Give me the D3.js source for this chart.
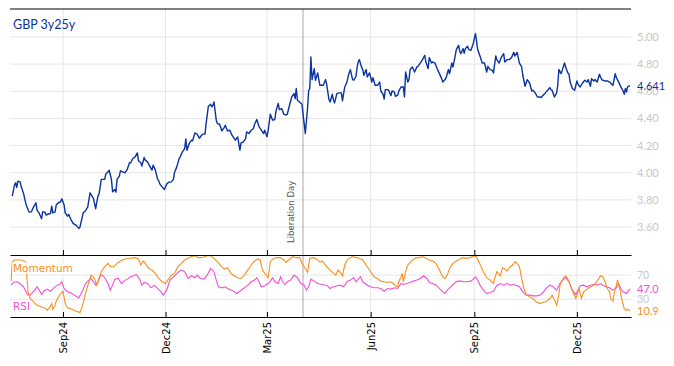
<!DOCTYPE html>
<html>
<head>
<meta charset="utf-8">
<script src="https://cdn.jsdelivr.net/npm/d3@7"></script>
<style>
  body { margin: 0; background: #fff; }
</style>
</head>
<body>
<div id="chart"></div>
<script>
// GBP 3y25y forward rate
const gbpSeries = [
  ["2024-07-18",3.828],["2024-07-20",3.909],["2024-07-21",3.926],["2024-07-22",3.892],["2024-07-23",3.938],["2024-07-25",3.933],
  ["2024-07-26",3.896],["2024-07-28",3.848],["2024-07-30",3.774],["2024-07-31",3.749],["2024-08-02",3.710],["2024-08-04",3.712],
  ["2024-08-06",3.749],["2024-08-08",3.779],["2024-08-09",3.725],["2024-08-11",3.700],["2024-08-13",3.661],["2024-08-14",3.712],
  ["2024-08-16",3.710],["2024-08-17",3.688],["2024-08-19",3.696],["2024-08-21",3.700],["2024-08-22",3.754],["2024-08-23",3.705],
  ["2024-08-25",3.712],["2024-08-26",3.762],["2024-08-28",3.779],["2024-08-30",3.786],["2024-08-31",3.808],["2024-09-02",3.762],
  ["2024-09-03",3.705],["2024-09-05",3.680],["2024-09-06",3.693],["2024-09-08",3.657],["2024-09-10",3.627],["2024-09-13",3.610],
  ["2024-09-15",3.590],["2024-09-16",3.598],["2024-09-19",3.705],["2024-09-21",3.720],["2024-09-23",3.749],["2024-09-25",3.852],
  ["2024-09-28",3.811],["2024-09-30",3.735],["2024-10-02",3.828],["2024-10-03",3.843],["2024-10-05",3.951],["2024-10-08",3.951],
  ["2024-10-09",3.990],["2024-10-11",4.007],["2024-10-12",4.019],["2024-10-14",3.951],["2024-10-15",3.860],["2024-10-17",3.877],
  ["2024-10-18",3.857],["2024-10-19",3.951],["2024-10-21",3.975],["2024-10-22",4.014],["2024-10-24",4.007],["2024-10-26",3.999],
  ["2024-10-28",4.024],["2024-10-30",4.073],["2024-10-31",4.073],["2024-11-02",4.105],["2024-11-04",4.117],["2024-11-06",4.146],
  ["2024-11-07",4.088],["2024-11-09",4.073],["2024-11-10",4.049],["2024-11-12",4.112],["2024-11-13",4.093],["2024-11-15",4.080],
  ["2024-11-17",4.049],["2024-11-19",4.019],["2024-11-20",4.056],["2024-11-22",4.019],["2024-11-24",3.951],["2024-11-25",3.940],
  ["2024-11-26",3.916],["2024-11-28",3.896],["2024-11-30",3.877],["2024-12-02",3.916],["2024-12-04",3.931],["2024-12-06",3.931],
  ["2024-12-08",3.951],["2024-12-09",4.004],["2024-12-11",4.043],["2024-12-13",4.102],["2024-12-14",4.117],["2024-12-16",4.154],
  ["2024-12-18",4.178],["2024-12-19",4.249],["2024-12-20",4.166],["2024-12-22",4.215],["2024-12-24",4.240],["2024-12-25",4.235],
  ["2024-12-27",4.293],["2024-12-29",4.284],["2024-12-31",4.254],["2025-01-02",4.276],["2025-01-03",4.284],["2025-01-05",4.284],
  ["2025-01-06",4.362],["2025-01-08",4.490],["2025-01-10",4.504],["2025-01-11",4.485],["2025-01-12",4.495],["2025-01-13",4.521],
  ["2025-01-15",4.387],["2025-01-16",4.362],["2025-01-18",4.357],["2025-01-20",4.308],["2025-01-22",4.333],["2025-01-23",4.350],
  ["2025-01-25",4.308],["2025-01-27",4.313],["2025-01-29",4.276],["2025-01-30",4.264],["2025-02-01",4.240],["2025-02-03",4.264],
  ["2025-02-05",4.166],["2025-02-06",4.220],["2025-02-08",4.227],["2025-02-10",4.249],["2025-02-11",4.301],["2025-02-13",4.289],
  ["2025-02-15",4.313],["2025-02-17",4.326],["2025-02-18",4.357],["2025-02-20",4.392],["2025-02-22",4.338],["2025-02-24",4.313],
  ["2025-02-26",4.289],["2025-02-27",4.313],["2025-03-01",4.264],["2025-03-02",4.308],["2025-03-04",4.431],["2025-03-06",4.387],
  ["2025-03-08",4.392],["2025-03-09",4.455],["2025-03-11",4.510],["2025-03-12",4.465],["2025-03-14",4.473],["2025-03-16",4.431],
  ["2025-03-18",4.424],["2025-03-19",4.431],["2025-03-21",4.497],["2025-03-23",4.558],["2025-03-25",4.583],["2025-03-26",4.546],
  ["2025-03-27",4.620],["2025-03-28",4.534],["2025-03-30",4.521],["2025-04-01",4.504],["2025-04-03",4.362],["2025-04-04",4.289],
  ["2025-04-06",4.473],["2025-04-07",4.607],["2025-04-08",4.620],["2025-04-09",4.852],["2025-04-10",4.686],["2025-04-12",4.767],
  ["2025-04-13",4.681],["2025-04-15",4.735],["2025-04-16",4.686],["2025-04-17",4.644],["2025-04-20",4.644],["2025-04-22",4.686],
  ["2025-04-23",4.651],["2025-04-25",4.539],["2025-04-26",4.521],["2025-04-28",4.578],["2025-04-29",4.534],["2025-04-30",4.514],
  ["2025-05-02",4.583],["2025-05-04",4.588],["2025-05-06",4.588],["2025-05-07",4.529],["2025-05-09",4.632],["2025-05-11",4.668],
  ["2025-05-12",4.710],["2025-05-14",4.760],["2025-05-16",4.686],["2025-05-17",4.681],["2025-05-19",4.710],["2025-05-20",4.779],
  ["2025-05-21",4.816],["2025-05-22",4.833],["2025-05-24",4.774],["2025-05-25",4.760],["2025-05-26",4.718],["2025-05-28",4.760],
  ["2025-05-29",4.705],["2025-05-31",4.735],["2025-06-02",4.668],["2025-06-03",4.700],["2025-06-05",4.644],["2025-06-07",4.644],
  ["2025-06-09",4.668],["2025-06-10",4.602],["2025-06-12",4.578],["2025-06-13",4.543],["2025-06-14",4.612],["2025-06-16",4.612],
  ["2025-06-17",4.607],["2025-06-19",4.568],["2025-06-20",4.602],["2025-06-22",4.595],["2025-06-23",4.563],["2025-06-25",4.571],
  ["2025-06-26",4.602],["2025-06-28",4.632],["2025-06-30",4.632],["2025-07-01",4.558],["2025-07-02",4.742],["2025-07-04",4.668],
  ["2025-07-05",4.686],["2025-07-06",4.760],["2025-07-08",4.779],["2025-07-10",4.742],["2025-07-12",4.779],["2025-07-13",4.784],
  ["2025-07-15",4.808],["2025-07-17",4.833],["2025-07-19",4.865],["2025-07-20",4.816],["2025-07-22",4.767],["2025-07-23",4.848],
  ["2025-07-25",4.808],["2025-07-26",4.816],["2025-07-28",4.808],["2025-07-30",4.767],["2025-08-01",4.730],["2025-08-03",4.693],
  ["2025-08-04",4.668],["2025-08-06",4.686],["2025-08-07",4.700],["2025-08-09",4.760],["2025-08-10",4.730],["2025-08-12",4.808],
  ["2025-08-13",4.779],["2025-08-14",4.816],["2025-08-16",4.907],["2025-08-18",4.939],["2025-08-19",4.897],["2025-08-20",4.877],
  ["2025-08-22",4.914],["2025-08-23",4.880],["2025-08-24",4.914],["2025-08-26",4.931],["2025-08-27",4.907],["2025-08-29",4.902],
  ["2025-08-31",4.951],["2025-09-02",5.025],["2025-09-04",4.907],["2025-09-06",4.860],["2025-09-08",4.808],["2025-09-10",4.808],
  ["2025-09-12",4.742],["2025-09-13",4.784],["2025-09-15",4.760],["2025-09-17",4.754],["2025-09-18",4.735],["2025-09-20",4.860],
  ["2025-09-21",4.833],["2025-09-23",4.808],["2025-09-25",4.852],["2025-09-27",4.877],["2025-09-28",4.816],["2025-09-30",4.833],
  ["2025-10-02",4.833],["2025-10-04",4.848],["2025-10-06",4.887],["2025-10-07",4.860],["2025-10-09",4.887],["2025-10-11",4.808],
  ["2025-10-13",4.779],["2025-10-14",4.718],["2025-10-16",4.637],["2025-10-18",4.686],["2025-10-20",4.661],["2025-10-22",4.602],
  ["2025-10-23",4.607],["2025-10-25",4.588],["2025-10-27",4.558],["2025-10-29",4.558],["2025-10-30",4.553],["2025-11-01",4.571],
  ["2025-11-03",4.588],["2025-11-05",4.607],["2025-11-07",4.627],["2025-11-08",4.612],["2025-11-09",4.607],["2025-11-11",4.558],
  ["2025-11-13",4.588],["2025-11-14",4.644],["2025-11-15",4.760],["2025-11-17",4.730],["2025-11-18",4.754],["2025-11-20",4.808],
  ["2025-11-21",4.779],["2025-11-23",4.735],["2025-11-24",4.725],["2025-11-25",4.668],["2025-11-27",4.620],["2025-11-29",4.607],
  ["2025-12-01",4.676],["2025-12-02",4.651],["2025-12-04",4.632],["2025-12-06",4.661],["2025-12-08",4.681],["2025-12-10",4.668],
  ["2025-12-11",4.686],["2025-12-13",4.637],["2025-12-14",4.693],["2025-12-16",4.676],["2025-12-17",4.686],["2025-12-19",4.668],
  ["2025-12-21",4.725],["2025-12-23",4.686],["2025-12-24",4.681],["2025-12-26",4.676],["2025-12-28",4.676],["2025-12-30",4.668],
  ["2026-01-01",4.651],["2026-01-02",4.644],["2026-01-04",4.730],["2026-01-05",4.700],["2026-01-06",4.686],["2026-01-08",4.651],
  ["2026-01-09",4.632],["2026-01-11",4.602],["2026-01-12",4.578],["2026-01-13",4.620],["2026-01-14",4.595],["2026-01-15",4.632],
  ["2026-01-17",4.641]
];

const momentumSeries = [
  ["2024-07-17",60],["2024-07-18",92],["2024-07-20",95],["2024-07-26",95],["2024-07-30",92],["2024-08-01",42],["2024-08-03",31],
  ["2024-08-06",25.6],["2024-08-09",20],["2024-08-13",17.2],["2024-08-16",15.6],["2024-08-18",11.7],["2024-08-20",15.6],["2024-08-22",22.8],
  ["2024-08-23",13.3],["2024-08-25",20],["2024-08-26",26.7],["2024-08-28",33.9],["2024-08-30",39.4],["2024-09-01",43.3],["2024-09-03",22.8],
  ["2024-09-05",15.6],["2024-09-09",13.3],["2024-09-13",10],["2024-09-16",7.8],["2024-09-18",17.2],["2024-09-21",39.4],["2024-09-24",58.9],
  ["2024-09-26",70],["2024-09-29",64.4],["2024-10-01",53.3],["2024-10-03",64.4],["2024-10-05",75.6],["2024-10-08",83.9],["2024-10-11",89.4],
  ["2024-10-13",83.9],["2024-10-16",83.9],["2024-10-19",89.4],["2024-10-22",93.3],["2024-10-26",96.7],["2024-10-30",97.8],["2024-11-04",98.9],
  ["2024-11-07",96.7],["2024-11-09",86.7],["2024-11-11",93.3],["2024-11-13",89.4],["2024-11-16",81.1],["2024-11-19",78.3],["2024-11-22",72.8],
  ["2024-11-25",64.4],["2024-11-28",58.9],["2024-12-01",56.1],["2024-12-03",61.7],["2024-12-06",70],["2024-12-09",72.8],["2024-12-12",83.9],
  ["2024-12-15",89.4],["2024-12-18",95],["2024-12-21",97.8],["2024-12-24",100.6],["2024-12-27",102],["2024-12-30",98.9],["2025-01-02",99.4],
  ["2025-01-04",100],["2025-01-07",102],["2025-01-10",102],["2025-01-13",97.8],["2025-01-16",92.2],["2025-01-19",85.6],["2025-01-22",80],
  ["2025-01-25",82.2],["2025-01-28",72.8],["2025-01-31",68.9],["2025-02-03",65.6],["2025-02-06",64.4],["2025-02-09",70],["2025-02-12",78.3],
  ["2025-02-15",86.7],["2025-02-18",93.3],["2025-02-21",96.7],["2025-02-23",95],["2025-02-25",78.3],["2025-02-27",72.8],["2025-03-02",65.6],
  ["2025-03-04",92.2],["2025-03-07",97.8],["2025-03-10",98.9],["2025-03-13",98.9],["2025-03-16",95],["2025-03-18",91.1],["2025-03-21",96.7],
  ["2025-03-24",100.6],["2025-03-27",98.9],["2025-03-30",98.9],["2025-04-01",89.4],["2025-04-03",83.9],["2025-04-06",74.4],["2025-04-08",97.8],
  ["2025-04-11",98.9],["2025-04-14",96.7],["2025-04-17",91.1],["2025-04-19",93.3],["2025-04-23",83.9],["2025-04-26",78.3],["2025-04-29",72.8],
  ["2025-05-01",70],["2025-05-03",78.3],["2025-05-05",74.4],["2025-05-07",68.9],["2025-05-09",86.7],["2025-05-11",95],["2025-05-14",98.9],
  ["2025-05-16",100.6],["2025-05-19",98.9],["2025-05-22",97.8],["2025-05-25",95],["2025-05-27",89.4],["2025-05-29",83.9],["2025-06-01",75.6],
  ["2025-06-04",67.2],["2025-06-07",64.4],["2025-06-10",60],["2025-06-13",58.9],["2025-06-16",57.8],["2025-06-19",58.9],["2025-06-21",56],
  ["2025-06-23",52.2],["2025-06-25",50.6],["2025-06-26",58.9],["2025-06-28",67.2],["2025-06-29",72.8],["2025-06-30",58.9],["2025-07-02",75.6],
  ["2025-07-04",86.7],["2025-07-07",93.3],["2025-07-10",97.8],["2025-07-14",98.9],["2025-07-17",100.6],["2025-07-20",97.8],["2025-07-23",95],
  ["2025-07-26",93.3],["2025-07-29",89.4],["2025-08-01",78.3],["2025-08-04",67.2],["2025-08-06",64.4],["2025-08-08",70],["2025-08-10",81.1],
  ["2025-08-13",89.4],["2025-08-16",93.3],["2025-08-19",96.7],["2025-08-22",98.9],["2025-08-25",97.8],["2025-08-28",98.9],["2025-08-30",100.6],
  ["2025-09-01",102],["2025-09-03",100],["2025-09-06",88],["2025-09-09",75.6],["2025-09-12",65.6],["2025-09-15",61.7],["2025-09-18",56.1],
  ["2025-09-19",64.4],["2025-09-21",75.6],["2025-09-24",68.9],["2025-09-26",82.2],["2025-09-28",80],["2025-09-30",76.7],["2025-10-03",83.9],
  ["2025-10-05",86.7],["2025-10-07",92.2],["2025-10-09",89.4],["2025-10-11",83.9],["2025-10-13",64.4],["2025-10-15",47.8],["2025-10-17",37.8],
  ["2025-10-20",33.9],["2025-10-23",31.1],["2025-10-26",25.6],["2025-10-29",22.8],["2025-11-01",24.4],["2025-11-04",26.7],["2025-11-07",31.1],
  ["2025-11-09",36.7],["2025-11-12",25.6],["2025-11-13",20],["2025-11-15",36.7],["2025-11-16",53.3],["2025-11-18",61.7],["2025-11-20",67.2],
  ["2025-11-21",68.9],["2025-11-23",63.3],["2025-11-25",53.3],["2025-11-28",39.4],["2025-11-30",31.1],["2025-12-02",42.2],["2025-12-03",47.8],
  ["2025-12-05",31.1],["2025-12-07",42.2],["2025-12-10",46.7],["2025-12-13",50.6],["2025-12-16",53.3],["2025-12-18",57.8],["2025-12-20",63.3],
  ["2025-12-22",68.9],["2025-12-24",67.2],["2025-12-26",58.9],["2025-12-28",47.8],["2025-12-30",42.2],["2025-12-31",31.1],["2026-01-02",26.7],
  ["2026-01-03",39.4],["2026-01-05",53.3],["2026-01-06",61.7],["2026-01-08",47.8],["2026-01-10",28.3],["2026-01-12",14.4],["2026-01-14",11.7],
  ["2026-01-15",13.3],["2026-01-17",10.9]
];

const rsiSeries = [
  ["2024-07-17",53.3],["2024-07-19",57.8],["2024-07-22",58.9],["2024-07-25",56],["2024-07-28",50.6],["2024-07-31",39.4],["2024-08-02",35.6],
  ["2024-08-04",39.4],["2024-08-07",45],["2024-08-09",50.6],["2024-08-11",45],["2024-08-13",37.8],["2024-08-15",43.3],["2024-08-18",46.7],
  ["2024-08-21",43.3],["2024-08-24",48.9],["2024-08-27",53.3],["2024-08-29",54.4],["2024-08-31",58.9],["2024-09-02",47.8],["2024-09-05",42.2],
  ["2024-09-09",39.4],["2024-09-12",35.6],["2024-09-15",32.2],["2024-09-18",42.2],["2024-09-21",56.1],["2024-09-24",61.7],["2024-09-26",64.4],
  ["2024-09-28",58.9],["2024-09-30",53.3],["2024-10-02",57.8],["2024-10-04",68.9],["2024-10-06",70],["2024-10-08",65.6],["2024-10-11",56.1],
  ["2024-10-13",45],["2024-10-15",53.3],["2024-10-17",63.3],["2024-10-20",64.4],["2024-10-23",56],["2024-10-25",60],["2024-10-28",63.3],
  ["2024-10-31",67.2],["2024-11-03",68.9],["2024-11-05",71.1],["2024-11-08",63.3],["2024-11-10",53.3],["2024-11-12",57.8],["2024-11-15",56],
  ["2024-11-18",48.9],["2024-11-21",53.3],["2024-11-24",47.8],["2024-11-27",42.2],["2024-11-29",36.7],["2024-12-02",45],["2024-12-05",61.7],
  ["2024-12-08",67.2],["2024-12-12",74.4],["2024-12-15",78.3],["2024-12-18",75.6],["2024-12-21",64.4],["2024-12-24",68.9],["2024-12-27",65.6],
  ["2024-12-29",70],["2025-01-01",64.4],["2025-01-04",63.3],["2025-01-07",70],["2025-01-10",81.1],["2025-01-13",75.6],["2025-01-15",61.7],
  ["2025-01-17",50.6],["2025-01-20",48.9],["2025-01-23",50.6],["2025-01-26",46.7],["2025-01-29",45],["2025-02-02",39.4],["2025-02-05",43.3],
  ["2025-02-09",48.9],["2025-02-12",53.3],["2025-02-15",58.9],["2025-02-18",61.7],["2025-02-20",65.6],["2025-02-22",58.9],["2025-02-24",50.6],
  ["2025-02-27",52.2],["2025-03-02",56],["2025-03-04",60],["2025-03-06",65.6],["2025-03-08",58.9],["2025-03-11",56],["2025-03-13",67.2],
  ["2025-03-15",58.9],["2025-03-17",54.4],["2025-03-19",58.9],["2025-03-22",61.7],["2025-03-25",70],["2025-03-28",65.6],["2025-03-31",56],
  ["2025-04-03",53.3],["2025-04-05",45],["2025-04-07",50.6],["2025-04-09",63.3],["2025-04-12",60],["2025-04-15",56],["2025-04-20",54],
  ["2025-04-23",53.3],["2025-04-26",47.8],["2025-04-29",50.6],["2025-05-02",52.2],["2025-05-05",53.3],["2025-05-08",50.6],["2025-05-11",58.9],
  ["2025-05-14",61.7],["2025-05-17",65.6],["2025-05-19",58.9],["2025-05-21",63.3],["2025-05-23",67.2],["2025-05-25",58.9],["2025-05-29",53.3],
  ["2025-06-01",50.6],["2025-06-04",48.9],["2025-06-07",48.9],["2025-06-10",47.8],["2025-06-13",43.3],["2025-06-16",47.8],["2025-06-19",46.7],
  ["2025-06-22",48.9],["2025-06-25",47.8],["2025-06-28",56],["2025-06-30",54.4],["2025-07-03",56],["2025-07-06",57.8],["2025-07-09",60],
  ["2025-07-12",61.7],["2025-07-15",64.4],["2025-07-18",68.9],["2025-07-21",64.4],["2025-07-23",57.8],["2025-07-26",56],["2025-07-29",53.3],
  ["2025-08-01",47.8],["2025-08-04",42.2],["2025-08-06",39.4],["2025-08-08",45],["2025-08-11",50.6],["2025-08-14",56],["2025-08-17",60],
  ["2025-08-20",60],["2025-08-23",58.9],["2025-08-26",58.9],["2025-08-29",60],["2025-08-31",63.3],["2025-09-02",67.2],["2025-09-04",61.7],
  ["2025-09-06",53.3],["2025-09-09",45],["2025-09-12",39.4],["2025-09-15",41.1],["2025-09-18",43.3],["2025-09-21",53.3],["2025-09-24",56],
  ["2025-09-27",53.3],["2025-09-30",56],["2025-10-03",53.3],["2025-10-06",54.4],["2025-10-08",53.3],["2025-10-11",50.6],["2025-10-14",42.2],
  ["2025-10-17",36.7],["2025-10-20",36.7],["2025-10-23",35.6],["2025-10-26",35.6],["2025-10-29",36.7],["2025-11-01",41.1],["2025-11-04",48.9],
  ["2025-11-07",53.3],["2025-11-10",50.6],["2025-11-13",45],["2025-11-16",56],["2025-11-19",63.3],["2025-11-21",65.6],["2025-11-24",58.9],
  ["2025-11-27",45],["2025-11-30",37.8],["2025-12-02",45],["2025-12-04",52.2],["2025-12-07",53.3],["2025-12-10",50.6],["2025-12-13",53.3],
  ["2025-12-16",54.4],["2025-12-19",53.3],["2025-12-22",56],["2025-12-24",53.3],["2025-12-27",50.6],["2025-12-30",48.9],["2026-01-02",45],
  ["2026-01-05",48.9],["2026-01-07",56],["2026-01-09",47.8],["2026-01-11",42.2],["2026-01-14",39.4],["2026-01-16",45],["2026-01-17",47]
];

const monthTicks = ["2024-09-01","2024-12-01","2025-03-01","2025-06-01","2025-09-01","2025-12-01"];
const rateTicks = [3.6, 3.8, 4.0, 4.2, 4.4, 4.6, 4.8, 5.0];
const oscTicks = [30, 70];
const eventLines = [["2025-04-02", "Liberation Day"]];
const dateRange = ["2024-07-16", "2026-01-18"];

class rateChart {

    constructor() {
        this.parse = d3.timeParse("%Y-%m-%d");
        this.width = 674;
        this.height = 366;
        this.left = 10;
        this.right = 631;
        this.mainTop = 9;
        this.mainBottom = 255;
        this.oscBottom = 317;
        this.colors = { rate: "#0a32a0", momentum: "#f7901e", rsi: "#f24fd8", grid: "#e6e6e6", tick: "#c8c8c8" };

        this.svg = d3.select("#chart").append("svg")
            .attr("width", this.width)
            .attr("height", this.height)
            .style("font-family", "Lato, 'DejaVu Sans', sans-serif");

        this.xScale = d3.scaleTime()
            .domain(dateRange.map(this.parse))
            .range([this.left, this.right]);
        this.yMain = d3.scaleLinear().domain([3.394, 5.206]).range([this.mainBottom, this.mainTop]);
        this.yOsc = d3.scaleLinear().domain([0.5, 103.3]).range([this.oscBottom, this.mainBottom]);

        this.drawGrid();
        this.drawLines();
        this.drawAxes();
        this.drawLabels();
    }

    drawGrid() {
        let that = this;
        let g = this.svg.append("g").attr("class", "grid");

        g.selectAll(".hMain").data(rateTicks).join("line")
            .attr("class", "hMain")
            .attr("x1", this.left).attr("x2", this.right)
            .attr("y1", d => that.yMain(d)).attr("y2", d => that.yMain(d))
            .style("stroke", this.colors.grid);

        g.selectAll(".hOsc").data(oscTicks).join("line")
            .attr("class", "hOsc")
            .attr("x1", this.left).attr("x2", this.right)
            .attr("y1", d => that.yOsc(d)).attr("y2", d => that.yOsc(d))
            .style("stroke", this.colors.grid);

        g.selectAll(".vGrid").data(monthTicks).join("line")
            .attr("class", "vGrid")
            .attr("x1", d => that.xScale(that.parse(d))).attr("x2", d => that.xScale(that.parse(d)))
            .attr("y1", this.mainTop).attr("y2", this.oscBottom)
            .style("stroke", this.colors.grid);

        // event marker (Liberation Day)
        let ev = this.svg.append("g").selectAll("g").data(eventLines).join("g");
        ev.append("line")
            .attr("x1", d => that.xScale(that.parse(d[0]))).attr("x2", d => that.xScale(that.parse(d[0])))
            .attr("y1", this.mainTop).attr("y2", this.oscBottom)
            .style("stroke", "#a8a8a8");
        ev.append("text")
            .attr("transform", d => "translate(" + (that.xScale(that.parse(d[0])) - 9) + "," + (this.mainBottom - 12) + ") rotate(-90)")
            .style("font-family", "'DejaVu Sans', sans-serif")
            .style("font-size", "8.5px")
            .style("fill", "#555")
            .text(d => d[1]);
    }

    drawLines() {
        let that = this;
        let defs = this.svg.append("defs");
        defs.append("clipPath").attr("id", "clipMain").append("rect")
            .attr("x", this.left).attr("y", this.mainTop)
            .attr("width", this.right - this.left).attr("height", this.mainBottom - this.mainTop);
        defs.append("clipPath").attr("id", "clipOsc").append("rect")
            .attr("x", this.left).attr("y", this.mainBottom)
            .attr("width", this.right - this.left).attr("height", this.oscBottom - this.mainBottom);

        let mainLine = d3.line()
            .x(d => that.xScale(that.parse(d[0])))
            .y(d => that.yMain(d[1]));
        let oscLine = d3.line()
            .x(d => that.xScale(that.parse(d[0])))
            .y(d => that.yOsc(d[1]));

        this.svg.append("path")
            .datum(gbpSeries)
            .attr("clip-path", "url(#clipMain)")
            .attr("d", mainLine)
            .style("fill", "none")
            .style("stroke", this.colors.rate)
            .style("stroke-width", 1.4)
            .style("stroke-linejoin", "round");

        this.svg.append("path")
            .datum(rsiSeries)
            .attr("clip-path", "url(#clipOsc)")
            .attr("d", oscLine)
            .style("fill", "none")
            .style("stroke", this.colors.rsi)
            .style("stroke-width", 1.1);

        this.svg.append("path")
            .datum(momentumSeries)
            .attr("clip-path", "url(#clipOsc)")
            .attr("d", oscLine)
            .style("fill", "none")
            .style("stroke", this.colors.momentum)
            .style("stroke-width", 1.1);
    }

    drawAxes() {
        let tickDates = monthTicks.map(this.parse);

        // top frame line
        this.svg.append("line")
            .attr("x1", this.left).attr("x2", this.right)
            .attr("y1", this.mainTop).attr("y2", this.mainTop)
            .style("stroke", "#000");

        // panel divider with inward ticks
        let mid = d3.axisBottom(this.xScale).tickValues(tickDates).tickSize(-5).tickSizeOuter(0).tickFormat("");
        this.svg.append("g")
            .attr("transform", "translate(0," + this.mainBottom + ")")
            .call(mid)
            .call(g => g.selectAll("line, path").style("stroke", "#000"));

        // bottom date axis
        let xAxis = d3.axisBottom(this.xScale).tickValues(tickDates).tickSize(-5).tickSizeOuter(0)
            .tickFormat(d3.timeFormat("%b%y"));
        let xg = this.svg.append("g")
            .attr("transform", "translate(0," + this.oscBottom + ")")
            .call(xAxis);
        xg.selectAll("line, path").style("stroke", "#000");
        xg.selectAll("text")
            .attr("transform", "rotate(-90)")
            .attr("x", -5)
            .attr("y", 0)
            .attr("dy", "0.35em")
            .style("text-anchor", "end")
            .style("font-family", "'DejaVu Sans', sans-serif")
            .style("font-size", "10px")
            .style("fill", "#000");

        // right-hand value labels
        let yAxis = d3.axisRight(this.yMain).tickValues(rateTicks).tickFormat(d3.format(".2f")).tickSize(0).tickPadding(6);
        let yg = this.svg.append("g").attr("transform", "translate(" + this.right + ",0)").call(yAxis);
        yg.select(".domain").remove();
        yg.selectAll("text").style("font-family", "Lato, sans-serif").style("font-size", "11px").style("fill", this.colors.tick);

        let oAxis = d3.axisRight(this.yOsc).tickValues(oscTicks).tickSize(0).tickPadding(6);
        let og = this.svg.append("g").attr("transform", "translate(" + this.right + ",0)").call(oAxis);
        og.select(".domain").remove();
        og.selectAll("text").style("font-family", "Lato, sans-serif").style("font-size", "10.5px").style("fill", this.colors.tick);
    }

    drawLabels() {
        let lastRate = gbpSeries[gbpSeries.length - 1][1];
        let lastMom = momentumSeries[momentumSeries.length - 1][1];
        let lastRsi = rsiSeries[rsiSeries.length - 1][1];
        let endLabels = [
            { v: d3.format(".3f")(lastRate), y: this.yMain(lastRate), c: this.colors.rate },
            { v: d3.format(".1f")(lastRsi), y: this.yOsc(lastRsi), c: this.colors.rsi },
            { v: d3.format(".1f")(lastMom), y: this.yOsc(lastMom), c: this.colors.momentum }
        ];
        this.svg.selectAll(".endLabel").data(endLabels).join("text")
            .attr("class", "endLabel")
            .attr("x", this.right + 6)
            .attr("y", d => d.y)
            .attr("dy", "0.35em")
            .style("font-family", "Lato, sans-serif")
            .style("font-size", "11px")
            .style("fill", d => d.c)
            .text(d => d.v);

        this.svg.append("text")
            .attr("x", 13).attr("y", 29)
            .style("font-family", "Lato, sans-serif")
            .style("font-size", "12.5px")
            .style("fill", this.colors.rate)
            .text("GBP 3y25y");

        // series names in the lower panel, on a faded white box
        let names = [
            { t: "Momentum", y: 272, c: this.colors.momentum },
            { t: "RSI", y: 310, c: this.colors.rsi }
        ];
        let that = this;
        names.forEach(n => {
            let g = that.svg.append("g");
            let rect = g.append("rect").style("fill", "#fff").style("opacity", 0.7);
            let txt = g.append("text")
                .attr("x", 13).attr("y", n.y)
                .style("font-family", "'DejaVu Sans', sans-serif")
                .style("font-size", "10.5px")
                .style("fill", n.c)
                .text(n.t);
            let bb = txt.node().getBBox();
            rect.attr("x", bb.x - 1).attr("y", bb.y).attr("width", bb.width + 2).attr("height", bb.height);
        });
    }
}

new rateChart();
</script>
</body>
</html>
